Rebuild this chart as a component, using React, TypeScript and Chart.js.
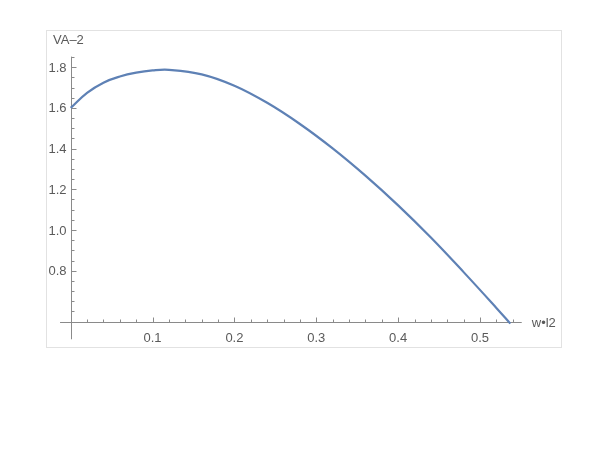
import { useEffect, useRef } from "react";
import { Chart, registerables } from "chart.js";

Chart.register(...registerables);

// Curve samples (x = w•l2, y = VA−2)
const wl2Values = [0, 0.02, 0.04, 0.06, 0.08, 0.1, 0.12, 0.16, 0.2, 0.24, 0.28, 0.32, 0.36, 0.4, 0.44, 0.48, 0.52, 0.537];
const va2Values = [1.6, 1.674, 1.724, 1.754, 1.773, 1.784, 1.787, 1.765, 1.709, 1.625, 1.521, 1.401, 1.267, 1.121, 0.963, 0.793, 0.617, 0.54];

const xMajorTicks = [0.1, 0.2, 0.3, 0.4, 0.5];
const xTickLabels = ["0.1", "0.2", "0.3", "0.4", "0.5"];
const xMinorTicks = [0.02, 0.04, 0.06, 0.08, 0.12, 0.14, 0.16, 0.18, 0.22, 0.24, 0.26, 0.28, 0.32, 0.34, 0.36, 0.38, 0.42, 0.44, 0.46, 0.48, 0.52, 0.54];

const yMajorTicks = [0.8, 1.0, 1.2, 1.4, 1.6, 1.8];
const yTickLabels = ["0.8", "1.0", "1.2", "1.4", "1.6", "1.8"];
const yMinorTicks = [0.6, 0.65, 0.7, 0.75, 0.85, 0.9, 0.95, 1.05, 1.1, 1.15, 1.25, 1.3, 1.35, 1.45, 1.5, 1.55, 1.65, 1.7, 1.75, 1.85];

const xAxisTitle = "w•l2";
const yAxisTitle = "VA–2";

// axis extents (data units)
const xAxisFrom = -0.013;
const xAxisTo = 0.551;
const xAxisAtY = 0.548;
const yAxisFrom = 0.463;
const yAxisTo = 1.852;

const FONT = '13px "Liberation Sans", Arial, sans-serif';
const LABEL_COLOR = "#5a5a5a";
const AXIS_COLOR = "#8a8a8a";

const mathAxesPlugin = {
  id: "mathAxes",
  beforeDraw(chart: any) {
    const ctx = chart.ctx;
    ctx.save();
    ctx.fillStyle = "#ffffff";
    ctx.fillRect(0, 0, chart.width, chart.height);
    ctx.strokeStyle = "#e2e2e2";
    ctx.lineWidth = 1;
    ctx.strokeRect(46.5, 30.5, 515, 317);
    ctx.restore();
  },
  beforeDatasetsDraw(chart: any) {
    const ctx = chart.ctx;
    const xs = chart.scales.x;
    const ys = chart.scales.y;
    const snap = (v: number) => Math.round(v) + 0.5;
    const ax = snap(xs.getPixelForValue(0));
    const ay = snap(ys.getPixelForValue(xAxisAtY));

    ctx.save();
    ctx.strokeStyle = AXIS_COLOR;
    ctx.lineWidth = 1;
    ctx.beginPath();
    // x axis
    ctx.moveTo(xs.getPixelForValue(xAxisFrom), ay);
    ctx.lineTo(xs.getPixelForValue(xAxisTo), ay);
    // y axis
    ctx.moveTo(ax, ys.getPixelForValue(yAxisFrom));
    ctx.lineTo(ax, ys.getPixelForValue(yAxisTo));
    // x ticks
    xMajorTicks.forEach((v) => {
      const p = snap(xs.getPixelForValue(v));
      ctx.moveTo(p, ay);
      ctx.lineTo(p, ay - 5);
    });
    xMinorTicks.forEach((v) => {
      const p = snap(xs.getPixelForValue(v));
      ctx.moveTo(p, ay);
      ctx.lineTo(p, ay - 3);
    });
    // y ticks
    yMajorTicks.forEach((v) => {
      const p = snap(ys.getPixelForValue(v));
      ctx.moveTo(ax, p);
      ctx.lineTo(ax + 5, p);
    });
    yMinorTicks.forEach((v) => {
      const p = snap(ys.getPixelForValue(v));
      ctx.moveTo(ax, p);
      ctx.lineTo(ax + 3, p);
    });
    ctx.stroke();

    ctx.fillStyle = LABEL_COLOR;
    ctx.font = FONT;
    ctx.textAlign = "center";
    ctx.textBaseline = "top";
    xMajorTicks.forEach((v, i) => {
      ctx.fillText(xTickLabels[i], xs.getPixelForValue(v), ay + 9);
    });
    ctx.textAlign = "right";
    ctx.textBaseline = "middle";
    yMajorTicks.forEach((v, i) => {
      ctx.fillText(yTickLabels[i], ax - 5, ys.getPixelForValue(v) + 1);
    });
    ctx.textAlign = "left";
    ctx.fillText(xAxisTitle, xs.getPixelForValue(xAxisTo) + 10, ay + 1);
    ctx.fillText(yAxisTitle, 53, 40);
    ctx.restore();
  },
};

export default function App() {
  const canvasRef = useRef<HTMLCanvasElement | null>(null);

  useEffect(() => {
    if (!canvasRef.current) return;
    const points = wl2Values.map((x, i) => ({ x, y: va2Values[i] }));
    const chart = new Chart(canvasRef.current, {
      type: "line",
      data: {
        datasets: [
          {
            label: yAxisTitle,
            data: points,
            borderColor: "#5E81B5",
            backgroundColor: "#5E81B5",
            borderWidth: 2.2,
            pointRadius: 0,
            fill: false,
            tension: 0.4,
          },
        ],
      },
      options: {
        responsive: false,
        animation: false,
        devicePixelRatio: 1,
        layout: { autoPadding: false, padding: 0 },
        plugins: {
          legend: { display: false },
          tooltip: { enabled: false },
          title: { display: false },
        },
        scales: {
          x: {
            type: "linear",
            display: false,
            bounds: "data",
            min: -0.08637,
            max: 0.6466,
          },
          y: {
            type: "linear",
            display: false,
            bounds: "data",
            min: -0.08108,
            max: 2.13022,
          },
        },
      },
      plugins: [mathAxesPlugin],
    } as any);
    return () => chart.destroy();
  }, []);

  return (
    <div style={{ position: "absolute", left: 0, top: 0, width: 600, height: 450, background: "#fff" }}>
      <canvas ref={canvasRef} width={600} height={450} />
    </div>
  );
}
